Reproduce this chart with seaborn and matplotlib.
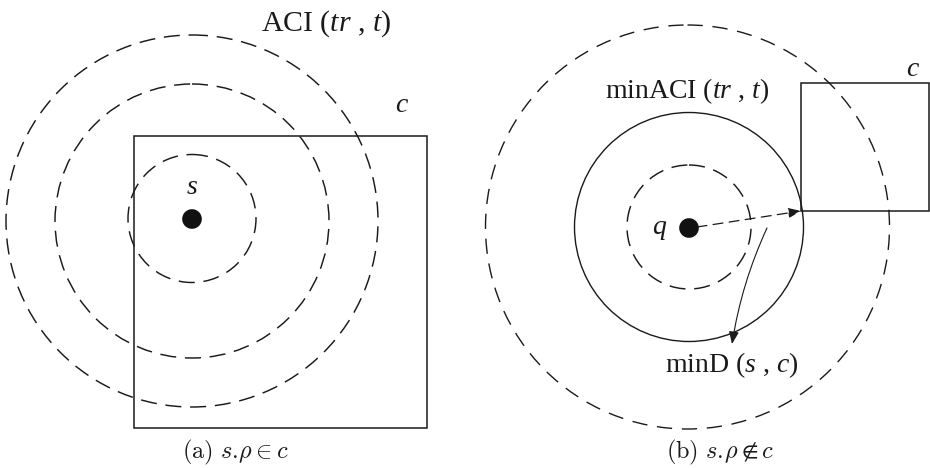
import matplotlib
matplotlib.use("Agg")
import matplotlib.pyplot as plt
from matplotlib.patches import Circle, Rectangle, FancyArrowPatch
import seaborn as sns
import pandas as pd

sns.set_theme(style="white")
plt.rcParams["font.family"] = ["Liberation Serif", "DejaVu Serif"]
plt.rcParams["mathtext.fontset"] = "custom"
plt.rcParams["mathtext.rm"] = "Liberation Serif"
plt.rcParams["mathtext.it"] = "Liberation Serif:italic"

# Query points (pixel space of the canvas)
point_names = ["s", "q"]
point_x = [192, 689]
point_y = [219, 228]

# Panel (a): concentric ACI rings around s, and cell c
rings_a_r = [64, 137, 186]
rings_a_cy = [218.5, 221, 221]
cell_a = [134, 136, 293, 292]  # x, y, width, height

# Panel (b): inner dashed ring, solid minACI ring, outer dashed ring around q, and cell c
ring_b_inner_r = 62
ring_b_min_r = 114.5
ring_b_outer_r = 202
ring_b_cy = 227
cell_b = [801, 83, 128, 128]

fig = plt.figure(figsize=(9.3, 4.68), dpi=100)
ax = fig.add_axes([0, 0, 1, 1])
ax.set_xlim(0, 930)
ax.set_ylim(468, 0)
ax.set_aspect("equal")
ax.axis("off")

ink = "#1a1a1a"
dash = (0, (11, 6))

# Panel (a)
for r, cy in zip(rings_a_r, rings_a_cy):
    ax.add_patch(Circle((point_x[0], cy), r, fill=False, lw=1.05, ec=ink, ls=dash))
ax.add_patch(Rectangle((cell_a[0], cell_a[1]), cell_a[2], cell_a[3], fill=False, lw=1.1, ec=ink))

# Panel (b)
ax.add_patch(Circle((point_x[1], ring_b_cy), ring_b_inner_r, fill=False, lw=1.05, ec=ink, ls=dash))
ax.add_patch(Circle((point_x[1], ring_b_cy), ring_b_min_r, fill=False, lw=1.0, ec=ink))
ax.add_patch(Circle((point_x[1] - 1.5, ring_b_cy), ring_b_outer_r, fill=False, lw=1.0, ec=ink,
                    ls=(0, (11, 7))))
ax.add_patch(Rectangle((cell_b[0], cell_b[1]), cell_b[2], cell_b[3], fill=False, lw=1.1, ec=ink))

# Points
pts = pd.DataFrame({"name": point_names, "x": point_x, "y": point_y})
sns.scatterplot(data=pts, x="x", y="y", ax=ax, s=200, color="#111111", edgecolor="none",
                legend=False, zorder=5)

# minD dashed arrow from q to the cell corner
ax.add_patch(FancyArrowPatch((point_x[1] + 8, point_y[1] - 1), (cell_b[0], cell_b[1] + cell_b[3]),
                             arrowstyle="-|>,head_length=5,head_width=2", mutation_scale=1.5,
                             lw=0.9, color=ink, ls=(0, (8, 5)), shrinkA=0, shrinkB=0))
# Curved pointer to the minD label
ax.add_patch(FancyArrowPatch((767, 228), (732, 344),
                             connectionstyle="arc3,rad=0.07",
                             arrowstyle="-|>,head_length=5,head_width=2", mutation_scale=1.5,
                             lw=0.8, color=ink, shrinkA=0, shrinkB=0))

fs = 20
ax.text(326, 24, r"ACI ($tr$ , $t$)", fontsize=21.5, ha="center", va="center", color=ink)
ax.text(402, 106, r"$c$", fontsize=fs, ha="center", va="center", color=ink)
ax.text(192, 188, r"$s$", fontsize=fs, ha="center", va="center", color=ink)

ax.text(687, 91, r"minACI ($tr$ , $t$)", fontsize=fs, ha="center", va="center", color=ink)
ax.text(913, 70, r"$c$", fontsize=fs, ha="center", va="center", color=ink)
ax.text(660, 230, r"$q$", fontsize=fs, ha="center", va="center", color=ink)
ax.text(732, 365, r"minD ($s$ , $c$)", fontsize=fs, ha="center", va="center", color=ink)

ax.text(235, 452, r"$\mathrm{(a)}\ s.\!\rho \in c$", fontsize=17.5, ha="center", va="center",
        color=ink, math_fontfamily="cm")
ax.text(720, 452, r"$\mathrm{(b)}\ s.\!\rho \notin c$", fontsize=17.5, ha="center", va="center",
        color=ink, math_fontfamily="cm")

fig.savefig("out.png", dpi=100, facecolor="white")
